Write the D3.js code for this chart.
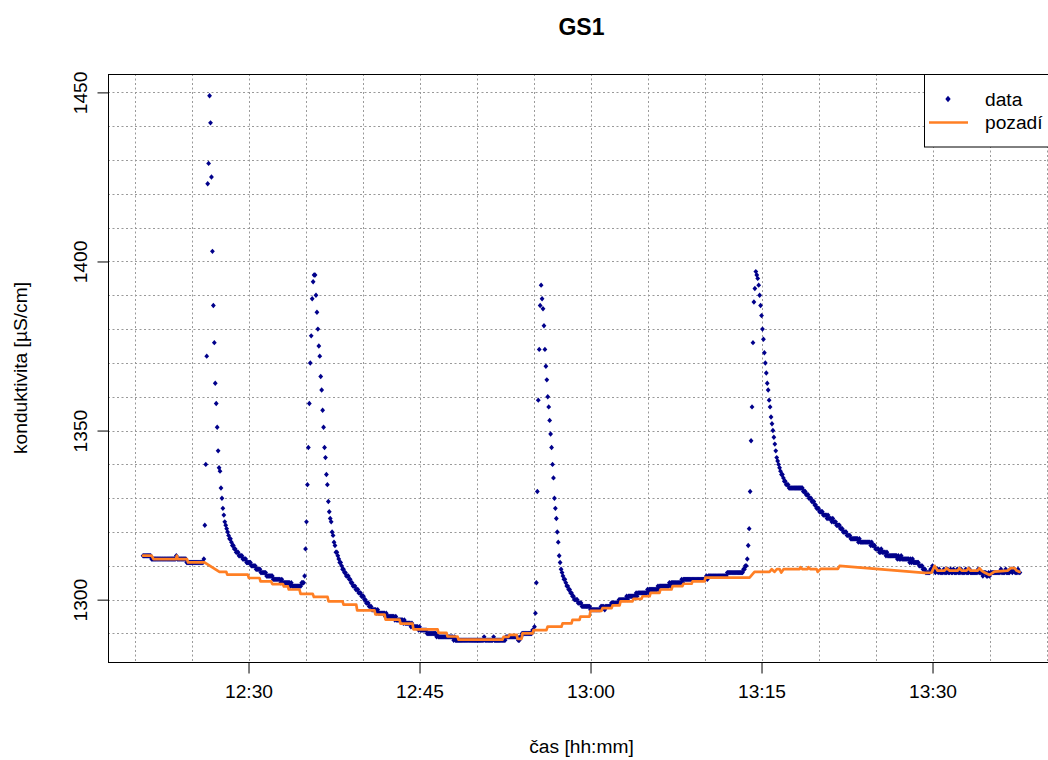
<!DOCTYPE html>
<html>
<head>
<meta charset="utf-8">
<script src="https://cdn.jsdelivr.net/npm/d3@7"></script>
<style>
body { margin: 0; background: #fff; }
text { font-family: "Liberation Sans", Arial, Helvetica, sans-serif; }
</style>
</head>
<body>
<svg id="chart"></svg>
<script>
// conductivity readings, one every 5 s from 12:20:45 (one row = one minute)
var startTime = "12:20:45",
    stepSec = 5;
var dataValues = [
  1313,1313,1313,1313,1313,1313,1313,1313,1313,1312,1312,1312,
  1312,1312,1312,1312,1312,1312,1312,1312,1312,1312,1312,1312,
  1312,1312,1312,1312,1312,1312,1312,1312,1312,1312,1312,1313,
  1312,1312,1312,1312,1312,1312,1312,1312,1312,1312,1311,1311,
  1311,1311,1311,1311,1311,1311,1311,1311,1311,1311,1311,1311,
  1311,1311,1311,1311,1312,1322,1340,1372,1423,1429,1449,1441,
  1425,1403,1387,1376,1364,1358,1351,1344,1339,1338,1333,1330,
  1327,1325,1323,1322,1321,1320,1319,1318,1318,1317,1316,1316,
  1315,1315,1314,1314,1314,1313,1313,1313,1313,1312,1312,1312,
  1312,1311,1311,1311,1311,1311,1310,1310,1310,1310,1310,1309,
  1309,1309,1309,1309,1308,1308,1308,1308,1308,1308,1307,1307,
  1307,1307,1307,1307,1307,1306,1306,1306,1306,1306,1306,1306,
  1306,1305,1306,1305,1305,1305,1305,1305,1305,1305,1305,1304,
  1305,1304,1304,1304,1304,1304,1304,1304,1304,1304,1304,1305,
  1305,1305,1307,1315,1323,1334,1345,1358,1370,1378,1389,1394,
  1396,1396,1390,1385,1380,1375,1372,1366,1362,1356,1351,1345,
  1342,1337,1334,1329,1326,1324,1323,1320,1319,1317,1316,1314,
  1314,1313,1312,1311,1311,1310,1309,1309,1308,1308,1307,1307,
  1307,1306,1306,1305,1305,1304,1304,1304,1303,1303,1303,1302,
  1302,1302,1301,1301,1301,1300,1300,1299,1299,1299,1298,1298,
  1298,1297,1297,1297,1297,1297,1296,1297,1296,1296,1296,1296,
  1296,1296,1296,1295,1296,1295,1295,1295,1295,1295,1295,1295,
  1295,1294,1295,1294,1294,1294,1294,1294,1294,1294,1293,1294,
  1293,1293,1293,1293,1293,1293,1292,1293,1292,1292,1292,1292,
  1292,1292,1291,1292,1291,1291,1291,1291,1291,1291,1291,1290,
  1290,1290,1290,1290,1290,1290,1290,1290,1290,1289,1290,1289,
  1289,1289,1289,1289,1289,1289,1289,1289,1289,1289,1289,1289,
  1289,1289,1289,1288,1289,1288,1288,1288,1288,1288,1288,1288,
  1288,1288,1288,1288,1288,1288,1288,1288,1288,1288,1288,1288,
  1288,1288,1288,1288,1288,1288,1288,1288,1288,1288,1288,1289,
  1288,1288,1288,1288,1288,1288,1288,1288,1288,1289,1288,1288,
  1288,1288,1288,1288,1288,1288,1288,1288,1288,1288,1289,1289,
  1289,1289,1289,1289,1289,1289,1289,1289,1289,1289,1289,1288,
  1288,1289,1289,1290,1290,1290,1290,1290,1290,1290,1290,1290,
  1290,1290,1291,1291,1292,1296,1305,1332,1359,1374,1387,1393,
  1389,1386,1381,1374,1369,1365,1360,1357,1353,1349,1345,1340,
  1336,1330,1327,1324,1320,1317,1313,1311,1309,1308,1307,1306,
  1306,1305,1304,1304,1303,1303,1302,1302,1301,1301,1300,1300,
  1300,1300,1299,1299,1299,1299,1298,1298,1298,1298,1298,1298,
  1298,1298,1298,1297,1297,1297,1297,1297,1297,1297,1297,1297,
  1297,1297,1298,1298,1298,1298,1297,1298,1298,1298,1298,1298,
  1298,1299,1299,1299,1299,1299,1299,1299,1299,1300,1300,1300,
  1300,1300,1300,1300,1300,1301,1300,1301,1301,1301,1301,1301,
  1301,1301,1301,1302,1301,1302,1302,1302,1302,1302,1302,1302,
  1302,1302,1302,1303,1302,1303,1303,1303,1303,1303,1303,1303,
  1303,1303,1304,1303,1304,1304,1304,1304,1304,1304,1304,1304,
  1304,1304,1305,1304,1305,1305,1305,1305,1305,1305,1305,1305,
  1305,1305,1305,1306,1305,1306,1306,1306,1306,1306,1306,1306,
  1306,1306,1306,1306,1306,1306,1306,1306,1306,1306,1306,1306,
  1306,1306,1306,1306,1306,1307,1306,1307,1307,1307,1307,1307,
  1307,1307,1307,1307,1307,1307,1307,1307,1307,1307,1307,1307,
  1307,1307,1307,1308,1308,1308,1308,1308,1308,1308,1308,1308,
  1308,1308,1308,1308,1308,1308,1308,1308,1309,1309,1310,1310,
  1312,1316,1321,1332,1347,1357,1376,1388,1392,1397,1396,1395,
  1393,1390,1387,1384,1380,1377,1373,1370,1367,1364,1362,1359,
  1357,1354,1352,1350,1348,1346,1344,1342,1341,1340,1339,1338,
  1337,1337,1336,1335,1335,1334,1334,1334,1333,1333,1333,1333,
  1333,1333,1333,1333,1333,1333,1333,1333,1333,1333,1333,1332,
  1332,1332,1331,1331,1331,1330,1330,1330,1329,1329,1329,1328,
  1328,1327,1327,1327,1326,1326,1326,1326,1325,1325,1325,1325,
  1324,1325,1324,1324,1324,1323,1324,1323,1323,1323,1322,1322,
  1322,1322,1321,1321,1321,1320,1320,1320,1320,1319,1319,1319,
  1319,1318,1318,1318,1318,1318,1318,1318,1318,1317,1318,1317,
  1317,1317,1317,1317,1317,1317,1317,1317,1317,1317,1316,1317,
  1316,1316,1316,1315,1315,1315,1315,1314,1314,1315,1314,1314,
  1314,1314,1313,1314,1313,1313,1313,1313,1313,1313,1313,1313,
  1313,1313,1312,1313,1312,1312,1313,1312,1312,1312,1312,1312,
  1312,1312,1312,1311,1312,1311,1312,1311,1311,1311,1311,1311,
  1311,1310,1310,1310,1310,1309,1309,1309,1308,1308,1308,1308,
  1308,1309,1309,1310,1309,1309,1308,1309,1309,1308,1309,1308,
  1308,1308,1308,1309,1308,1308,1308,1309,1308,1308,1309,1308,
  1308,1309,1308,1308,1308,1309,1308,1308,1308,1309,1308,1308,
  1308,1308,1309,1308,1308,1308,1309,1308,1308,1308,1308,1308,
  1308,1308,1308,1309,1308,1308,1308,1308,1307,1308,1308,1308,
  1307,1307,1308,1307,1308,1308,1308,1308,1308,1308,1308,1308,
  1308,1308,1308,1309,1308,1308,1308,1308,1309,1308,1308,1308,
  1308,1309,1309,1308,1309,1309,1308,1308,1308,1309,1308,1308
];

// background ("pozadí") line, break points
var bgTimes = [
  "12:20:45","12:21:30","12:21:40","12:23:38","12:23:43","12:23:47","12:24:36","12:24:42",
  "12:26:08","12:27:27","12:28:03","12:28:08","12:29:56","12:30:02","12:30:58","12:31:03",
  "12:31:59","12:32:05","12:33:01","12:33:06","12:33:27","12:33:32","12:34:28","12:34:34",
  "12:35:38","12:35:44","12:36:56","12:37:01","12:38:15","12:38:20","12:39:27","12:39:32",
  "12:41:03","12:41:08","12:41:56","12:42:01","12:43:15","12:43:20","12:44:23","12:44:28",
  "12:46:35","12:46:40","12:47:22","12:47:27","12:48:20","12:48:25","12:52:17","12:52:22",
  "12:52:48","12:52:54","12:53:31","12:53:36","12:53:57","12:54:02","12:54:55","12:55:00",
  "12:56:08","12:56:14","12:57:27","12:57:33","12:58:20","12:58:25","12:59:02","12:59:07",
  "12:59:55","13:00:00","13:00:58","13:01:03","13:01:51","13:01:56","13:02:33","13:02:38",
  "13:03:41","13:03:46","13:04:28","13:04:34","13:05:11","13:05:16","13:06:03","13:06:08",
  "13:07:06","13:07:12","13:08:04","13:08:09","13:08:52","13:08:57","13:10:00","13:10:05",
  "13:13:57","13:14:23","13:15:42","13:15:54","13:16:08","13:16:21","13:16:35","13:16:44",
  "13:16:56","13:18:20","13:18:25","13:18:36","13:19:02","13:19:07","13:19:18","13:19:50",
  "13:19:56","13:20:11","13:21:42","13:21:51","13:29:18","13:29:55","13:30:11","13:30:26",
  "13:31:03","13:31:14","13:31:30","13:32:12","13:32:22","13:32:33","13:32:59","13:33:10",
  "13:33:20","13:33:57","13:34:07","13:34:18","13:34:34","13:35:00","13:35:26","13:36:35",
  "13:36:51","13:37:12","13:37:22","13:37:38"
];
var bgValues = [
  1313,1313,1312,1312,1313,1312,1312,1311,
  1311,1308.2,1308.2,1307.4,1307.4,1306.4,1306.4,1305.4,
  1305.4,1304.6,1304.6,1303.9,1303.9,1303.0,1303.0,1301.7,
  1301.7,1300.8,1300.8,1299.5,1299.5,1298.5,1298.5,1296.8,
  1296.8,1295.6,1295.6,1294.1,1294.1,1292.9,1292.9,1291.2,
  1291.2,1290.2,1290.2,1289.1,1289.1,1288.2,1288.2,1289,
  1289,1289.6,1289.6,1288.4,1288.4,1290,1290,1291,
  1291,1292,1292,1293,1293,1294,1294,1295,
  1295,1296.7,1296.7,1297.5,1297.5,1298.3,1298.3,1299.5,
  1299.5,1300.2,1300.2,1301,1301,1302,1302,1303,
  1303,1304,1304,1304.7,1304.7,1305.4,1305.4,1306.5,
  1306.5,1308.2,1308.2,1309,1308.2,1309,1309,1308,
  1309,1309,1309.6,1309,1309,1309.6,1309,1309,
  1308.2,1309.1,1309.1,1310,1307.9,1308,1310,1308.6,
  1308.6,1309.3,1308.6,1308.6,1309.3,1308.6,1308.6,1309.3,
  1308.6,1308.6,1309.3,1308.6,1308,1307.3,1308.3,1308.6,
  1309.3,1309.3,1308.6,1308.2
];

var xTickLabels = ["12:30", "12:45", "13:00", "13:15", "13:30"];
var yTickValues = [1300, 1350, 1400, 1450];
var legendLabels = ["data", "pozadí"];

var width = 1048,
    height = 760;
var plotLeft = 108, plotRight = 1055, plotTop = 74, plotBottom = 662;
var fontSize = 19.2;
var dataColor = "#00008b",
    bgColor = "#ff7f24";

var svg = d3.select("#chart")
    .attr("width", width)
    .attr("height", height);

var parseTime = d3.timeParse("%H:%M:%S"),
    parseHM = d3.timeParse("%H:%M");
var t0 = parseTime(startTime);

var data = dataValues.map(function(v, i) {
    return {t: new Date(t0.getTime() + i * stepSec * 1000), v: v};
});
var bg = bgTimes.map(function(s, i) {
    return {t: parseTime(s), v: bgValues[i]};
});

// R style 4% padding of the ranges
var tExt = d3.extent(data, function(d) { return d.t; });
var tPad = (tExt[1] - tExt[0]) * 0.04;
var vExt = d3.extent(data.concat(bg), function(d) { return d.v; });
var vPad = (vExt[1] - vExt[0]) * 0.04;

var x = d3.scaleTime()
    .domain([new Date(+tExt[0] - tPad), new Date(+tExt[1] + tPad)])
    .range([plotLeft, plotRight]);
var y = d3.scaleLinear()
    .domain([vExt[0] - vPad, vExt[1] + vPad])
    .range([plotBottom, plotTop]);

// grid
var grid = svg.append("g")
    .attr("stroke", "#999")
    .attr("stroke-width", 1)
    .attr("stroke-dasharray", "2,2.5");
grid.selectAll(".vgrid")
    .data(d3.timeMinute.every(5).range(x.domain()[0], x.domain()[1]))
    .enter()
    .append("line")
    .attr("x1", function(d) { return Math.round(x(d)) + 0.5; })
    .attr("x2", function(d) { return Math.round(x(d)) + 0.5; })
    .attr("y1", plotTop)
    .attr("y2", plotBottom);
grid.selectAll(".hgrid")
    .data(d3.range(1290, 1451, 10))
    .enter()
    .append("line")
    .attr("x1", plotLeft)
    .attr("x2", plotRight)
    .attr("y1", function(d) { return Math.round(y(d)) + 0.5; })
    .attr("y2", function(d) { return Math.round(y(d)) + 0.5; });

// data points (pch 18 like diamonds)
var diamond = function(w, h) {
    return "M0," + (-h) + "L" + w + ",0L0," + h + "L" + (-w) + ",0Z";
};
svg.append("g")
    .selectAll("path")
    .data(data)
    .enter()
    .append("path")
    .attr("d", diamond(2.4, 2.7))
    .attr("fill", dataColor)
    .attr("transform", function(d) {
        return "translate(" + x(d.t) + "," + y(d.v) + ")";
    });

// background line
svg.append("path")
    .datum(bg)
    .attr("fill", "none")
    .attr("stroke", bgColor)
    .attr("stroke-width", 2.7)
    .attr("stroke-linejoin", "round")
    .attr("stroke-linecap", "round")
    .attr("d", d3.line()
        .x(function(d) { return x(d.t); })
        .y(function(d) { return y(d.v); }));

// box
svg.append("rect")
    .attr("x", plotLeft + 0.5)
    .attr("y", plotTop + 0.5)
    .attr("width", plotRight - plotLeft)
    .attr("height", plotBottom - plotTop)
    .attr("fill", "none")
    .attr("stroke", "#000")
    .attr("stroke-width", 1);

// x axis
var xAxis = svg.append("g")
    .attr("transform", "translate(0," + (plotBottom + 0.5) + ")")
    .call(d3.axisBottom(x)
        .tickValues(xTickLabels.map(function(s) { return parseHM(s); }))
        .tickFormat(d3.timeFormat("%H:%M"))
        .tickSize(11)
        .tickPadding(11));
xAxis.select(".domain").remove();
xAxis.selectAll("line").attr("stroke", "#000");
xAxis.selectAll("text")
    .attr("font-size", fontSize)
    .attr("fill", "#000")
    .style("font-family", "'Liberation Sans', Arial, sans-serif");

// y axis
var yAxis = svg.append("g")
    .attr("transform", "translate(" + (plotLeft + 0.5) + ",0)")
    .call(d3.axisLeft(y)
        .tickValues(yTickValues)
        .tickSize(11)
        .tickFormat(d3.format("d")));
yAxis.select(".domain").remove();
yAxis.selectAll("line").attr("stroke", "#000");
yAxis.selectAll("text")
    .attr("font-size", fontSize)
    .attr("fill", "#000")
    .attr("x", null)
    .attr("dy", null)
    .attr("text-anchor", "middle")
    .attr("transform", "translate(-22,0) rotate(-90)")
    .style("font-family", "'Liberation Sans', Arial, sans-serif");

// titles
svg.append("text")
    .attr("x", (plotLeft + plotRight) / 2)
    .attr("y", 35)
    .attr("text-anchor", "middle")
    .attr("font-size", 23)
    .attr("font-weight", "bold")
    .text("GS1");
svg.append("text")
    .attr("x", (plotLeft + plotRight) / 2)
    .attr("y", 753)
    .attr("text-anchor", "middle")
    .attr("font-size", fontSize)
    .text("čas [hh:mm]");
svg.append("text")
    .attr("transform", "translate(27," + (plotTop + plotBottom) / 2 + ") rotate(-90)")
    .attr("text-anchor", "middle")
    .attr("font-size", fontSize)
    .text("konduktivita [µS/cm]");

// legend
var legend = svg.append("g");
legend.append("rect")
    .attr("x", 924.5)
    .attr("y", plotTop + 0.5)
    .attr("width", plotRight - 924)
    .attr("height", 72.5)
    .attr("fill", "#fff")
    .attr("stroke", "#000");
legend.append("path")
    .attr("d", diamond(2.7, 3.2))
    .attr("fill", dataColor)
    .attr("transform", "translate(948,99)");
legend.append("line")
    .attr("x1", 929)
    .attr("x2", 968)
    .attr("y1", 122.5)
    .attr("y2", 122.5)
    .attr("stroke", bgColor)
    .attr("stroke-width", 2.7);
legend.selectAll(".label")
    .data(legendLabels)
    .enter()
    .append("text")
    .attr("x", 985)
    .attr("y", function(d, i) { return 106 + i * 23; })
    .attr("font-size", fontSize)
    .text(function(d) { return d; });
</script>
</body>
</html>
